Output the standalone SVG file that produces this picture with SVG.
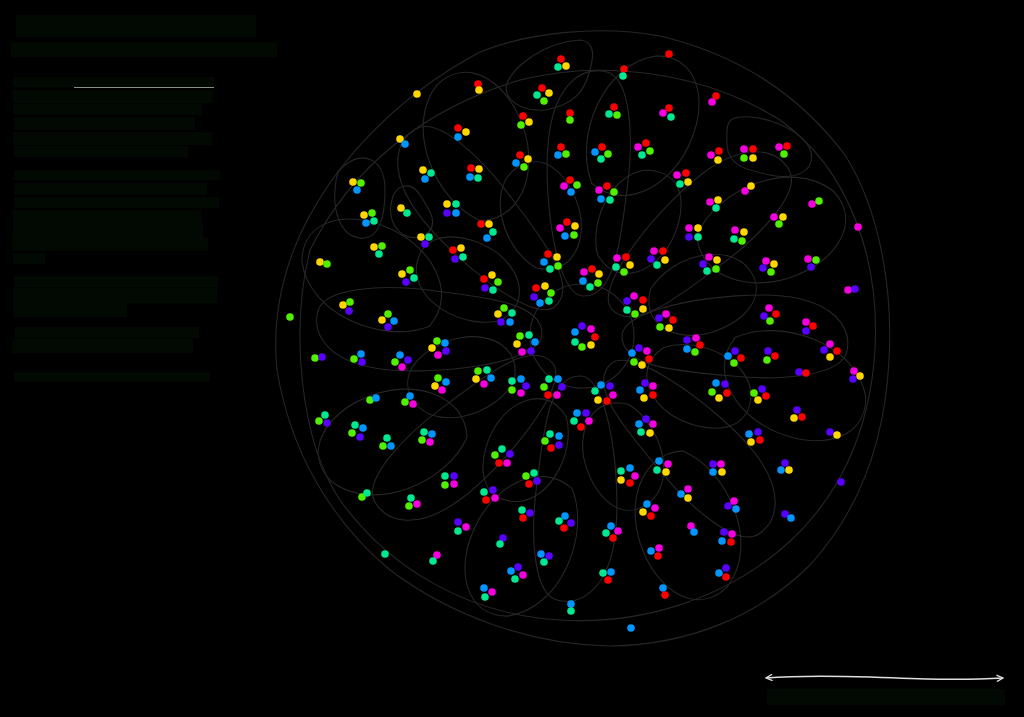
<svg xmlns="http://www.w3.org/2000/svg" xmlns:xlink="http://www.w3.org/1999/xlink" width="1024" height="717" viewBox="0 0 1024 717">
<style>
.c{fill:none;stroke:#262626;stroke-width:1.1}
.box{fill:#020802}
circle{stroke:none}
.r{fill:#ff0000}.y{fill:#ffd700}.g{fill:#50f000}.t{fill:#00e890}.b{fill:#0095ff}.p{fill:#5a00ff}.m{fill:#f700e0}
</style>
<defs>
<path id="pa" d="M 40 0 C 40 -30 150 -45 200 -40 C 250 -35 270 -10 265 15 C 260 40 200 45 150 40 C 90 35 40 30 40 0 Z"/>
<path id="pb" d="M 80 -20 C 110 -45 170 -40 180 -5 C 190 30 150 45 115 40 C 85 35 60 10 80 -20 Z"/>
<path id="pc" d="M 150 -30 C 190 -60 270 -50 290 0 C 300 40 260 60 220 55 C 170 50 130 10 150 -30 Z"/>
<marker id="ah" viewBox="0 0 10 10" refX="9" refY="5" markerWidth="8" markerHeight="8" orient="auto-start-reverse" markerUnits="userSpaceOnUse"><path d="M1 1 L9 5 L1 9" fill="none" stroke="#e0e0e0" stroke-width="1.6"/></marker>
</defs>
<rect width="1024" height="717" fill="#000"/>
<g id="legend">
<rect class="box" x="16" y="15" width="240" height="22"/>
<rect class="box" x="11" y="42" width="266" height="15"/>
<rect class="box" x="13" y="77" width="201" height="10"/>
<line x1="74" y1="87.5" x2="214" y2="87.5" stroke="#8a8a8a" stroke-width="1"/>
<rect class="box" x="13" y="90" width="200" height="13"/>
<rect class="box" x="13" y="104" width="189" height="11"/>
<rect class="box" x="14" y="117" width="181" height="13"/>
<rect class="box" x="13" y="132" width="199" height="13"/>
<rect class="box" x="14" y="146" width="174" height="11"/>
<rect class="box" x="14" y="170" width="206" height="10"/>
<rect class="box" x="14" y="183" width="193" height="12"/>
<rect class="box" x="14" y="197" width="205" height="11"/>
<rect class="box" x="13" y="210" width="188" height="13"/>
<rect class="box" x="13" y="223" width="190" height="14"/>
<rect class="box" x="12" y="237" width="196" height="14"/>
<rect class="box" x="13" y="253" width="32" height="11"/>
<rect class="box" x="14" y="276" width="204" height="11"/>
<rect class="box" x="13" y="288" width="204" height="15"/>
<rect class="box" x="13" y="303" width="114" height="14"/>
<rect class="box" x="15" y="327" width="184" height="11"/>
<rect class="box" x="12" y="339" width="181" height="14"/>
<rect class="box" x="14" y="372" width="196" height="10"/>
</g>
<g id="contours">
<path class="c" d="M 300 235 C 330 170 390 100 480 52 C 530 32 600 25 660 36 C 740 55 800 95 845 155 C 880 210 893 290 889 360 C 885 440 860 510 810 565 C 760 615 690 645 610 646 C 530 645 450 615 390 570 C 330 520 290 450 277 370 C 272 320 282 275 300 235 Z"/>
<path class="c" d="M 310 250 C 350 170 420 110 520 80 C 600 60 700 70 780 120 C 850 170 880 260 875 350 C 870 430 840 500 780 550 C 720 600 640 625 560 620 C 470 615 390 570 340 500 C 300 440 290 330 310 250 Z"/>
<g transform="translate(582 336)">
<use href="#pa" class="c" transform="rotate(0)"/>
<use href="#pa" class="c" transform="rotate(45)"/>
<use href="#pa" class="c" transform="rotate(92)"/>
<use href="#pa" class="c" transform="rotate(138)"/>
<use href="#pa" class="c" transform="rotate(182)"/>
<use href="#pa" class="c" transform="rotate(228)"/>
<use href="#pa" class="c" transform="rotate(272)"/>
<use href="#pa" class="c" transform="rotate(318)"/>
<use href="#pb" class="c" transform="rotate(22)"/>
<use href="#pb" class="c" transform="rotate(70)"/>
<use href="#pb" class="c" transform="rotate(115)"/>
<use href="#pb" class="c" transform="rotate(160)"/>
<use href="#pb" class="c" transform="rotate(205)"/>
<use href="#pb" class="c" transform="rotate(250)"/>
<use href="#pb" class="c" transform="rotate(295)"/>
<use href="#pb" class="c" transform="rotate(340)"/>
<use href="#pc" class="c" transform="rotate(12)"/>
<use href="#pc" class="c" transform="rotate(60)"/>
<use href="#pc" class="c" transform="rotate(105)"/>
<use href="#pc" class="c" transform="rotate(150)"/>
<use href="#pc" class="c" transform="rotate(195)"/>
<use href="#pc" class="c" transform="rotate(240)"/>
<use href="#pc" class="c" transform="rotate(285)"/>
<use href="#pc" class="c" transform="rotate(330)"/>
<circle class="c" r="52"/>
</g>
<path class="c" d="M 735 118 C 760 112 805 130 811 152 C 815 172 795 180 770 175 C 745 170 728 165 727 145 C 726 125 728 120 735 118 Z"/>
<path class="c" d="M 507 83 C 515 65 545 42 580 40 C 595 42 594 55 590 70 C 585 90 575 105 545 110 C 520 112 502 98 507 83 Z"/>
<path class="c" d="M 345 165 C 365 150 385 160 385 190 C 385 215 380 240 360 238 C 340 236 333 210 335 190 C 336 175 338 170 345 165 Z"/>
<path class="c" d="M 392 200 C 395 185 410 180 420 195 C 430 210 440 225 425 235 C 405 245 385 225 392 200 Z"/>
</g>
<g id="nodes">
<g id="n1"><circle class="y" cx="417" cy="94" r="3.8"/></g>
<g id="n2"><circle class="r" cx="478" cy="84" r="3.8"/><circle class="y" cx="479" cy="90" r="3.8"/></g>
<g id="n3"><circle class="r" cx="458" cy="128" r="3.8"/><circle class="y" cx="466" cy="132" r="3.8"/><circle class="b" cx="458" cy="137" r="3.8"/></g>
<g id="n4"><circle class="y" cx="400" cy="139" r="3.8"/><circle class="b" cx="405" cy="144" r="3.8"/></g>
<g id="n5"><circle class="r" cx="471" cy="168" r="3.8"/><circle class="y" cx="479" cy="169" r="3.8"/><circle class="b" cx="470" cy="177" r="3.8"/><circle class="t" cx="478" cy="178" r="3.8"/></g>
<g id="n6"><circle class="y" cx="423" cy="170" r="3.8"/><circle class="t" cx="431" cy="173" r="3.8"/><circle class="b" cx="425" cy="179" r="3.8"/></g>
<g id="n7"><circle class="y" cx="353" cy="182" r="3.8"/><circle class="g" cx="361" cy="183" r="3.8"/><circle class="b" cx="357" cy="190" r="3.8"/></g>
<g id="n8"><circle class="y" cx="401" cy="208" r="3.8"/><circle class="t" cx="407" cy="213" r="3.8"/></g>
<g id="n9"><circle class="y" cx="447" cy="204" r="3.8"/><circle class="t" cx="456" cy="204" r="3.8"/><circle class="p" cx="447" cy="213" r="3.8"/><circle class="b" cx="456" cy="213" r="3.8"/></g>
<g id="n10"><circle class="y" cx="364" cy="215" r="3.8"/><circle class="g" cx="372" cy="213" r="3.8"/><circle class="b" cx="366" cy="223" r="3.8"/><circle class="t" cx="374" cy="221" r="3.8"/></g>
<g id="n11"><circle class="r" cx="481" cy="224" r="3.8"/><circle class="y" cx="489" cy="224" r="3.8"/><circle class="t" cx="493" cy="232" r="3.8"/><circle class="b" cx="487" cy="238" r="3.8"/></g>
<g id="n12"><circle class="r" cx="669" cy="54" r="3.8"/></g>
<g id="n13"><circle class="r" cx="561" cy="59" r="3.8"/><circle class="t" cx="558" cy="67" r="3.8"/><circle class="y" cx="566" cy="66" r="3.8"/></g>
<g id="n14"><circle class="r" cx="624" cy="69" r="3.8"/><circle class="t" cx="623" cy="76" r="3.8"/></g>
<g id="n15"><circle class="r" cx="542" cy="88" r="3.8"/><circle class="t" cx="537" cy="95" r="3.8"/><circle class="y" cx="549" cy="93" r="3.8"/><circle class="g" cx="544" cy="101" r="3.8"/></g>
<g id="n16"><circle class="r" cx="570" cy="113" r="3.8"/><circle class="g" cx="570" cy="120" r="3.8"/></g>
<g id="n17"><circle class="r" cx="523" cy="116" r="3.8"/><circle class="y" cx="529" cy="122" r="3.8"/><circle class="g" cx="521" cy="125" r="3.8"/></g>
<g id="n18"><circle class="r" cx="614" cy="107" r="3.8"/><circle class="t" cx="609" cy="114" r="3.8"/><circle class="g" cx="617" cy="115" r="3.8"/></g>
<g id="n19"><circle class="r" cx="669" cy="108" r="3.8"/><circle class="m" cx="663" cy="113" r="3.8"/><circle class="t" cx="671" cy="117" r="3.8"/></g>
<g id="n20"><circle class="r" cx="561" cy="147" r="3.8"/><circle class="b" cx="558" cy="155" r="3.8"/><circle class="g" cx="566" cy="154" r="3.8"/></g>
<g id="n21"><circle class="r" cx="602" cy="147" r="3.8"/><circle class="b" cx="595" cy="152" r="3.8"/><circle class="g" cx="608" cy="154" r="3.8"/><circle class="t" cx="601" cy="159" r="3.8"/></g>
<g id="n22"><circle class="r" cx="646" cy="143" r="3.8"/><circle class="m" cx="638" cy="147" r="3.8"/><circle class="g" cx="650" cy="151" r="3.8"/><circle class="t" cx="642" cy="155" r="3.8"/></g>
<g id="n23"><circle class="r" cx="520" cy="155" r="3.8"/><circle class="y" cx="528" cy="159" r="3.8"/><circle class="b" cx="516" cy="163" r="3.8"/><circle class="g" cx="524" cy="167" r="3.8"/></g>
<g id="n24"><circle class="r" cx="570" cy="180" r="3.8"/><circle class="m" cx="564" cy="186" r="3.8"/><circle class="g" cx="577" cy="185" r="3.8"/><circle class="b" cx="571" cy="192" r="3.8"/></g>
<g id="n25"><circle class="r" cx="607" cy="186" r="3.8"/><circle class="m" cx="599" cy="190" r="3.8"/><circle class="g" cx="614" cy="192" r="3.8"/><circle class="b" cx="601" cy="199" r="3.8"/><circle class="t" cx="610" cy="200" r="3.8"/></g>
<g id="n26"><circle class="m" cx="677" cy="175" r="3.8"/><circle class="r" cx="686" cy="173" r="3.8"/><circle class="t" cx="680" cy="184" r="3.8"/><circle class="y" cx="688" cy="182" r="3.8"/></g>
<g id="n27"><circle class="r" cx="567" cy="222" r="3.8"/><circle class="m" cx="560" cy="228" r="3.8"/><circle class="y" cx="575" cy="226" r="3.8"/><circle class="b" cx="565" cy="236" r="3.8"/><circle class="g" cx="574" cy="235" r="3.8"/></g>
<g id="n28"><circle class="r" cx="716" cy="96" r="3.8"/><circle class="m" cx="712" cy="102" r="3.8"/></g>
<g id="n29"><circle class="m" cx="711" cy="155" r="3.8"/><circle class="r" cx="719" cy="151" r="3.8"/><circle class="y" cx="718" cy="160" r="3.8"/></g>
<g id="n30"><circle class="m" cx="744" cy="149" r="3.8"/><circle class="r" cx="753" cy="149" r="3.8"/><circle class="g" cx="744" cy="158" r="3.8"/><circle class="y" cx="753" cy="158" r="3.8"/></g>
<g id="n31"><circle class="m" cx="779" cy="147" r="3.8"/><circle class="r" cx="787" cy="146" r="3.8"/><circle class="g" cx="784" cy="154" r="3.8"/></g>
<g id="n32"><circle class="m" cx="745" cy="191" r="3.8"/><circle class="y" cx="751" cy="186" r="3.8"/></g>
<g id="n33"><circle class="m" cx="710" cy="202" r="3.8"/><circle class="y" cx="718" cy="200" r="3.8"/><circle class="t" cx="716" cy="208" r="3.8"/></g>
<g id="n34"><circle class="m" cx="812" cy="204" r="3.8"/><circle class="g" cx="819" cy="201" r="3.8"/></g>
<g id="n35"><circle class="m" cx="774" cy="217" r="3.8"/><circle class="y" cx="783" cy="217" r="3.8"/><circle class="g" cx="779" cy="224" r="3.8"/></g>
<g id="n36"><circle class="m" cx="735" cy="230" r="3.8"/><circle class="y" cx="744" cy="232" r="3.8"/><circle class="t" cx="734" cy="239" r="3.8"/><circle class="g" cx="742" cy="241" r="3.8"/></g>
<g id="n37"><circle class="m" cx="858" cy="227" r="3.8"/></g>
<g id="n38"><circle class="m" cx="689" cy="228" r="3.8"/><circle class="y" cx="698" cy="228" r="3.8"/><circle class="p" cx="689" cy="237" r="3.8"/><circle class="t" cx="698" cy="237" r="3.8"/></g>
<g id="n39"><circle class="m" cx="709" cy="257" r="3.8"/><circle class="y" cx="717" cy="260" r="3.8"/><circle class="p" cx="703" cy="264" r="3.8"/><circle class="g" cx="716" cy="269" r="3.8"/><circle class="t" cx="707" cy="271" r="3.8"/></g>
<g id="n40"><circle class="m" cx="766" cy="261" r="3.8"/><circle class="y" cx="774" cy="264" r="3.8"/><circle class="p" cx="763" cy="268" r="3.8"/><circle class="g" cx="771" cy="272" r="3.8"/></g>
<g id="n41"><circle class="m" cx="808" cy="259" r="3.8"/><circle class="g" cx="816" cy="260" r="3.8"/><circle class="p" cx="811" cy="267" r="3.8"/></g>
<g id="n42"><circle class="m" cx="848" cy="290" r="3.8"/><circle class="p" cx="855" cy="289" r="3.8"/></g>
<g id="n43"><circle class="m" cx="769" cy="308" r="3.8"/><circle class="r" cx="776" cy="314" r="3.8"/><circle class="p" cx="764" cy="316" r="3.8"/><circle class="g" cx="770" cy="321" r="3.8"/></g>
<g id="n44"><circle class="m" cx="806" cy="322" r="3.8"/><circle class="r" cx="813" cy="326" r="3.8"/><circle class="p" cx="806" cy="331" r="3.8"/></g>
<g id="n45"><circle class="m" cx="830" cy="344" r="3.8"/><circle class="r" cx="837" cy="351" r="3.8"/><circle class="p" cx="824" cy="350" r="3.8"/><circle class="y" cx="830" cy="357" r="3.8"/></g>
<g id="n46"><circle class="m" cx="854" cy="371" r="3.8"/><circle class="y" cx="860" cy="376" r="3.8"/><circle class="p" cx="853" cy="379" r="3.8"/></g>
<g id="n47"><circle class="p" cx="799" cy="372" r="3.8"/><circle class="r" cx="806" cy="373" r="3.8"/></g>
<g id="n48"><circle class="p" cx="687" cy="340" r="3.8"/><circle class="m" cx="696" cy="338" r="3.8"/><circle class="r" cx="700" cy="345" r="3.8"/><circle class="b" cx="687" cy="349" r="3.8"/><circle class="g" cx="695" cy="352" r="3.8"/></g>
<g id="n49"><circle class="p" cx="735" cy="351" r="3.8"/><circle class="b" cx="728" cy="356" r="3.8"/><circle class="r" cx="741" cy="358" r="3.8"/><circle class="g" cx="734" cy="363" r="3.8"/></g>
<g id="n50"><circle class="p" cx="768" cy="351" r="3.8"/><circle class="r" cx="775" cy="356" r="3.8"/><circle class="g" cx="767" cy="360" r="3.8"/></g>
<g id="n51"><circle class="b" cx="716" cy="383" r="3.8"/><circle class="p" cx="725" cy="384" r="3.8"/><circle class="g" cx="712" cy="392" r="3.8"/><circle class="r" cx="727" cy="393" r="3.8"/><circle class="y" cx="719" cy="398" r="3.8"/></g>
<g id="n52"><circle class="p" cx="762" cy="389" r="3.8"/><circle class="g" cx="754" cy="393" r="3.8"/><circle class="r" cx="766" cy="396" r="3.8"/><circle class="y" cx="758" cy="400" r="3.8"/></g>
<g id="n53"><circle class="p" cx="797" cy="410" r="3.8"/><circle class="y" cx="794" cy="418" r="3.8"/><circle class="r" cx="802" cy="417" r="3.8"/></g>
<g id="n54"><circle class="b" cx="749" cy="434" r="3.8"/><circle class="p" cx="758" cy="432" r="3.8"/><circle class="y" cx="751" cy="442" r="3.8"/><circle class="r" cx="760" cy="440" r="3.8"/></g>
<g id="n55"><circle class="p" cx="830" cy="432" r="3.8"/><circle class="y" cx="837" cy="435" r="3.8"/></g>
<g id="n56"><circle class="p" cx="713" cy="464" r="3.8"/><circle class="m" cx="721" cy="464" r="3.8"/><circle class="b" cx="713" cy="472" r="3.8"/><circle class="y" cx="722" cy="472" r="3.8"/></g>
<g id="n57"><circle class="p" cx="785" cy="463" r="3.8"/><circle class="b" cx="781" cy="470" r="3.8"/><circle class="y" cx="789" cy="470" r="3.8"/></g>
<g id="n58"><circle class="p" cx="841" cy="482" r="3.8"/></g>
<g id="n59"><circle class="b" cx="681" cy="494" r="3.8"/><circle class="m" cx="688" cy="489" r="3.8"/><circle class="y" cx="688" cy="498" r="3.8"/></g>
<g id="n60"><circle class="m" cx="734" cy="501" r="3.8"/><circle class="p" cx="728" cy="506" r="3.8"/><circle class="b" cx="736" cy="509" r="3.8"/></g>
<g id="n61"><circle class="p" cx="785" cy="514" r="3.8"/><circle class="b" cx="791" cy="518" r="3.8"/></g>
<g id="n62"><circle class="m" cx="691" cy="526" r="3.8"/><circle class="b" cx="694" cy="532" r="3.8"/></g>
<g id="n63"><circle class="p" cx="724" cy="532" r="3.8"/><circle class="m" cx="732" cy="534" r="3.8"/><circle class="b" cx="722" cy="541" r="3.8"/><circle class="r" cx="731" cy="542" r="3.8"/></g>
<g id="n64"><circle class="b" cx="719" cy="573" r="3.8"/><circle class="p" cx="726" cy="568" r="3.8"/><circle class="r" cx="726" cy="577" r="3.8"/></g>
<g id="n65"><circle class="t" cx="502" cy="449" r="3.8"/><circle class="g" cx="495" cy="455" r="3.8"/><circle class="p" cx="510" cy="454" r="3.8"/><circle class="r" cx="499" cy="463" r="3.8"/><circle class="m" cx="507" cy="463" r="3.8"/></g>
<g id="n66"><circle class="t" cx="550" cy="434" r="3.8"/><circle class="b" cx="559" cy="436" r="3.8"/><circle class="g" cx="545" cy="441" r="3.8"/><circle class="p" cx="559" cy="445" r="3.8"/><circle class="r" cx="551" cy="448" r="3.8"/></g>
<g id="n67"><circle class="t" cx="534" cy="473" r="3.8"/><circle class="g" cx="526" cy="476" r="3.8"/><circle class="p" cx="537" cy="481" r="3.8"/><circle class="r" cx="529" cy="484" r="3.8"/></g>
<g id="n68"><circle class="t" cx="621" cy="471" r="3.8"/><circle class="b" cx="630" cy="468" r="3.8"/><circle class="m" cx="635" cy="476" r="3.8"/><circle class="y" cx="621" cy="480" r="3.8"/><circle class="r" cx="630" cy="483" r="3.8"/></g>
<g id="n69"><circle class="b" cx="659" cy="461" r="3.8"/><circle class="m" cx="668" cy="464" r="3.8"/><circle class="t" cx="657" cy="470" r="3.8"/><circle class="y" cx="666" cy="472" r="3.8"/></g>
<g id="n70"><circle class="t" cx="484" cy="492" r="3.8"/><circle class="p" cx="493" cy="490" r="3.8"/><circle class="r" cx="486" cy="500" r="3.8"/><circle class="m" cx="495" cy="498" r="3.8"/></g>
<g id="n71"><circle class="b" cx="647" cy="504" r="3.8"/><circle class="m" cx="655" cy="508" r="3.8"/><circle class="y" cx="643" cy="512" r="3.8"/><circle class="r" cx="651" cy="516" r="3.8"/></g>
<g id="n72"><circle class="t" cx="522" cy="510" r="3.8"/><circle class="p" cx="530" cy="513" r="3.8"/><circle class="r" cx="523" cy="518" r="3.8"/></g>
<g id="n73"><circle class="b" cx="565" cy="516" r="3.8"/><circle class="t" cx="559" cy="521" r="3.8"/><circle class="p" cx="571" cy="523" r="3.8"/><circle class="r" cx="564" cy="528" r="3.8"/></g>
<g id="n74"><circle class="b" cx="611" cy="526" r="3.8"/><circle class="m" cx="618" cy="531" r="3.8"/><circle class="t" cx="606" cy="533" r="3.8"/><circle class="r" cx="613" cy="538" r="3.8"/></g>
<g id="n75"><circle class="m" cx="659" cy="548" r="3.8"/><circle class="b" cx="651" cy="551" r="3.8"/><circle class="r" cx="658" cy="556" r="3.8"/></g>
<g id="n76"><circle class="p" cx="503" cy="538" r="3.8"/><circle class="t" cx="500" cy="544" r="3.8"/></g>
<g id="n77"><circle class="b" cx="541" cy="554" r="3.8"/><circle class="p" cx="549" cy="556" r="3.8"/><circle class="t" cx="544" cy="562" r="3.8"/></g>
<g id="n78"><circle class="b" cx="511" cy="571" r="3.8"/><circle class="p" cx="518" cy="567" r="3.8"/><circle class="m" cx="523" cy="575" r="3.8"/><circle class="t" cx="515" cy="579" r="3.8"/></g>
<g id="n79"><circle class="t" cx="603" cy="573" r="3.8"/><circle class="b" cx="611" cy="572" r="3.8"/><circle class="r" cx="608" cy="580" r="3.8"/></g>
<g id="n80"><circle class="b" cx="484" cy="588" r="3.8"/><circle class="m" cx="492" cy="592" r="3.8"/><circle class="t" cx="485" cy="597" r="3.8"/></g>
<g id="n81"><circle class="b" cx="663" cy="588" r="3.8"/><circle class="r" cx="665" cy="595" r="3.8"/></g>
<g id="n82"><circle class="b" cx="571" cy="604" r="3.8"/><circle class="t" cx="571" cy="611" r="3.8"/></g>
<g id="n83"><circle class="b" cx="631" cy="628" r="3.8"/></g>
<g id="n84"><circle class="t" cx="387" cy="438" r="3.8"/><circle class="g" cx="383" cy="446" r="3.8"/><circle class="b" cx="391" cy="446" r="3.8"/></g>
<g id="n85"><circle class="t" cx="424" cy="432" r="3.8"/><circle class="b" cx="432" cy="434" r="3.8"/><circle class="g" cx="422" cy="440" r="3.8"/><circle class="m" cx="430" cy="442" r="3.8"/></g>
<g id="n86"><circle class="t" cx="445" cy="476" r="3.8"/><circle class="p" cx="454" cy="476" r="3.8"/><circle class="g" cx="445" cy="485" r="3.8"/><circle class="m" cx="454" cy="484" r="3.8"/></g>
<g id="n87"><circle class="g" cx="362" cy="497" r="3.8"/><circle class="t" cx="367" cy="493" r="3.8"/></g>
<g id="n88"><circle class="t" cx="411" cy="498" r="3.8"/><circle class="m" cx="417" cy="504" r="3.8"/><circle class="g" cx="409" cy="506" r="3.8"/></g>
<g id="n89"><circle class="p" cx="458" cy="522" r="3.8"/><circle class="m" cx="466" cy="527" r="3.8"/><circle class="t" cx="458" cy="531" r="3.8"/></g>
<g id="n90"><circle class="t" cx="385" cy="554" r="3.8"/></g>
<g id="n91"><circle class="m" cx="437" cy="555" r="3.8"/><circle class="t" cx="433" cy="561" r="3.8"/></g>
<g id="n92"><circle class="y" cx="421" cy="237" r="3.8"/><circle class="t" cx="429" cy="237" r="3.8"/><circle class="p" cx="425" cy="244" r="3.8"/></g>
<g id="n93"><circle class="r" cx="453" cy="250" r="3.8"/><circle class="y" cx="461" cy="248" r="3.8"/><circle class="p" cx="455" cy="259" r="3.8"/><circle class="t" cx="463" cy="257" r="3.8"/></g>
<g id="n94"><circle class="y" cx="374" cy="247" r="3.8"/><circle class="g" cx="382" cy="246" r="3.8"/><circle class="t" cx="379" cy="254" r="3.8"/></g>
<g id="n95"><circle class="y" cx="320" cy="262" r="3.8"/><circle class="g" cx="327" cy="264" r="3.8"/></g>
<g id="n96"><circle class="y" cx="402" cy="274" r="3.8"/><circle class="g" cx="410" cy="270" r="3.8"/><circle class="t" cx="414" cy="278" r="3.8"/><circle class="p" cx="406" cy="282" r="3.8"/></g>
<g id="n97"><circle class="y" cx="343" cy="305" r="3.8"/><circle class="g" cx="350" cy="302" r="3.8"/><circle class="p" cx="349" cy="311" r="3.8"/></g>
<g id="n98"><circle class="g" cx="290" cy="317" r="3.8"/></g>
<g id="n99"><circle class="g" cx="388" cy="314" r="3.8"/><circle class="y" cx="382" cy="320" r="3.8"/><circle class="b" cx="394" cy="321" r="3.8"/><circle class="p" cx="388" cy="327" r="3.8"/></g>
<g id="n100"><circle class="g" cx="437" cy="341" r="3.8"/><circle class="b" cx="445" cy="343" r="3.8"/><circle class="y" cx="432" cy="348" r="3.8"/><circle class="p" cx="446" cy="351" r="3.8"/><circle class="m" cx="438" cy="355" r="3.8"/></g>
<g id="n101"><circle class="g" cx="315" cy="358" r="3.8"/><circle class="p" cx="322" cy="357" r="3.8"/></g>
<g id="n102"><circle class="b" cx="361" cy="354" r="3.8"/><circle class="g" cx="354" cy="359" r="3.8"/><circle class="p" cx="362" cy="362" r="3.8"/></g>
<g id="n103"><circle class="b" cx="400" cy="355" r="3.8"/><circle class="p" cx="408" cy="360" r="3.8"/><circle class="g" cx="395" cy="362" r="3.8"/><circle class="m" cx="402" cy="367" r="3.8"/></g>
<g id="n104"><circle class="g" cx="438" cy="378" r="3.8"/><circle class="b" cx="446" cy="382" r="3.8"/><circle class="y" cx="435" cy="386" r="3.8"/><circle class="m" cx="442" cy="390" r="3.8"/></g>
<g id="n105"><circle class="g" cx="478" cy="371" r="3.8"/><circle class="t" cx="487" cy="370" r="3.8"/><circle class="y" cx="476" cy="379" r="3.8"/><circle class="b" cx="491" cy="378" r="3.8"/><circle class="m" cx="484" cy="384" r="3.8"/></g>
<g id="n106"><circle class="g" cx="370" cy="400" r="3.8"/><circle class="b" cx="376" cy="398" r="3.8"/></g>
<g id="n107"><circle class="b" cx="410" cy="396" r="3.8"/><circle class="g" cx="405" cy="402" r="3.8"/><circle class="m" cx="413" cy="404" r="3.8"/></g>
<g id="n108"><circle class="t" cx="325" cy="415" r="3.8"/><circle class="g" cx="319" cy="421" r="3.8"/><circle class="p" cx="327" cy="423" r="3.8"/></g>
<g id="n109"><circle class="t" cx="355" cy="425" r="3.8"/><circle class="b" cx="363" cy="428" r="3.8"/><circle class="g" cx="352" cy="433" r="3.8"/><circle class="p" cx="360" cy="437" r="3.8"/></g>
<g id="n110"><circle class="r" cx="548" cy="254" r="3.8"/><circle class="y" cx="557" cy="257" r="3.8"/><circle class="b" cx="544" cy="262" r="3.8"/><circle class="g" cx="558" cy="266" r="3.8"/><circle class="t" cx="550" cy="269" r="3.8"/></g>
<g id="n111"><circle class="m" cx="617" cy="258" r="3.8"/><circle class="r" cx="626" cy="257" r="3.8"/><circle class="t" cx="616" cy="267" r="3.8"/><circle class="y" cx="630" cy="265" r="3.8"/><circle class="g" cx="624" cy="272" r="3.8"/></g>
<g id="n112"><circle class="m" cx="654" cy="251" r="3.8"/><circle class="r" cx="663" cy="251" r="3.8"/><circle class="p" cx="651" cy="259" r="3.8"/><circle class="y" cx="665" cy="260" r="3.8"/><circle class="t" cx="657" cy="265" r="3.8"/></g>
<g id="n113"><circle class="m" cx="584" cy="272" r="3.8"/><circle class="r" cx="592" cy="269" r="3.8"/><circle class="y" cx="599" cy="274" r="3.8"/><circle class="b" cx="583" cy="281" r="3.8"/><circle class="g" cx="598" cy="283" r="3.8"/><circle class="t" cx="590" cy="287" r="3.8"/></g>
<g id="n114"><circle class="r" cx="484" cy="279" r="3.8"/><circle class="y" cx="492" cy="275" r="3.8"/><circle class="g" cx="498" cy="282" r="3.8"/><circle class="p" cx="485" cy="288" r="3.8"/><circle class="t" cx="493" cy="290" r="3.8"/></g>
<g id="n115"><circle class="r" cx="536" cy="288" r="3.8"/><circle class="y" cx="545" cy="286" r="3.8"/><circle class="g" cx="551" cy="293" r="3.8"/><circle class="p" cx="534" cy="297" r="3.8"/><circle class="b" cx="540" cy="303" r="3.8"/><circle class="t" cx="549" cy="301" r="3.8"/></g>
<g id="n116"><circle class="m" cx="634" cy="296" r="3.8"/><circle class="r" cx="643" cy="300" r="3.8"/><circle class="p" cx="627" cy="301" r="3.8"/><circle class="y" cx="643" cy="309" r="3.8"/><circle class="t" cx="627" cy="310" r="3.8"/><circle class="g" cx="635" cy="314" r="3.8"/></g>
<g id="n117"><circle class="m" cx="666" cy="314" r="3.8"/><circle class="r" cx="673" cy="320" r="3.8"/><circle class="p" cx="659" cy="318" r="3.8"/><circle class="g" cx="660" cy="327" r="3.8"/><circle class="y" cx="669" cy="328" r="3.8"/></g>
<g id="n118"><circle class="g" cx="504" cy="308" r="3.8"/><circle class="t" cx="512" cy="313" r="3.8"/><circle class="y" cx="498" cy="314" r="3.8"/><circle class="p" cx="501" cy="322" r="3.8"/><circle class="b" cx="510" cy="322" r="3.8"/></g>
<g id="n119"><circle class="p" cx="582" cy="326" r="3.8"/><circle class="m" cx="591" cy="329" r="3.8"/><circle class="r" cx="595" cy="337" r="3.8"/><circle class="b" cx="575" cy="332" r="3.8"/><circle class="t" cx="575" cy="342" r="3.8"/><circle class="y" cx="591" cy="345" r="3.8"/><circle class="g" cx="582" cy="347" r="3.8"/></g>
<g id="n120"><circle class="g" cx="520" cy="336" r="3.8"/><circle class="t" cx="529" cy="335" r="3.8"/><circle class="y" cx="517" cy="344" r="3.8"/><circle class="b" cx="535" cy="342" r="3.8"/><circle class="m" cx="522" cy="352" r="3.8"/><circle class="p" cx="531" cy="351" r="3.8"/></g>
<g id="n121"><circle class="p" cx="639" cy="348" r="3.8"/><circle class="m" cx="647" cy="351" r="3.8"/><circle class="b" cx="632" cy="353" r="3.8"/><circle class="r" cx="649" cy="359" r="3.8"/><circle class="g" cx="634" cy="362" r="3.8"/><circle class="y" cx="642" cy="365" r="3.8"/></g>
<g id="n122"><circle class="t" cx="512" cy="381" r="3.8"/><circle class="b" cx="521" cy="379" r="3.8"/><circle class="p" cx="526" cy="386" r="3.8"/><circle class="g" cx="512" cy="390" r="3.8"/><circle class="m" cx="521" cy="393" r="3.8"/></g>
<g id="n123"><circle class="t" cx="549" cy="379" r="3.8"/><circle class="b" cx="558" cy="379" r="3.8"/><circle class="g" cx="544" cy="387" r="3.8"/><circle class="p" cx="562" cy="387" r="3.8"/><circle class="r" cx="548" cy="395" r="3.8"/><circle class="m" cx="557" cy="395" r="3.8"/></g>
<g id="n124"><circle class="b" cx="601" cy="385" r="3.8"/><circle class="p" cx="610" cy="386" r="3.8"/><circle class="t" cx="595" cy="391" r="3.8"/><circle class="m" cx="613" cy="395" r="3.8"/><circle class="y" cx="598" cy="400" r="3.8"/><circle class="r" cx="607" cy="401" r="3.8"/></g>
<g id="n125"><circle class="p" cx="645" cy="383" r="3.8"/><circle class="b" cx="640" cy="390" r="3.8"/><circle class="m" cx="653" cy="386" r="3.8"/><circle class="y" cx="644" cy="398" r="3.8"/><circle class="r" cx="653" cy="395" r="3.8"/></g>
<g id="n126"><circle class="b" cx="577" cy="413" r="3.8"/><circle class="p" cx="586" cy="413" r="3.8"/><circle class="t" cx="574" cy="421" r="3.8"/><circle class="m" cx="589" cy="421" r="3.8"/><circle class="r" cx="581" cy="427" r="3.8"/></g>
<g id="n127"><circle class="p" cx="646" cy="419" r="3.8"/><circle class="b" cx="639" cy="424" r="3.8"/><circle class="m" cx="653" cy="424" r="3.8"/><circle class="t" cx="641" cy="432" r="3.8"/><circle class="y" cx="650" cy="433" r="3.8"/></g>
</g>
<g id="scale">
<path d="M 766 678 C 790 676 820 675.5 870 677 C 920 679 960 680.5 1003 678" fill="none" stroke="#e0e0e0" stroke-width="1.5" marker-start="url(#ah)" marker-end="url(#ah)"/>
<rect class="box" x="767" y="689" width="238" height="16"/>
</g>
</svg>
